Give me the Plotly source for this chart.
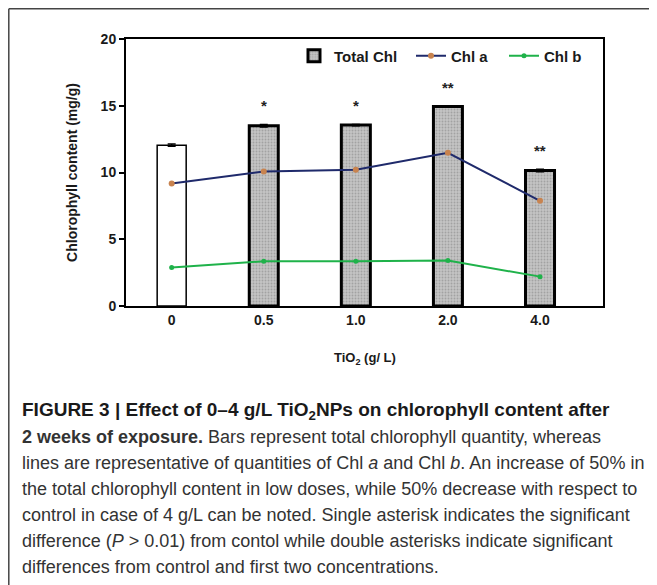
import plotly.graph_objects as go

# ---- data ----
categories = ["0", "0.5", "1.0", "2.0", "4.0"]
total_chl = [12.05, 13.5, 13.55, 14.95, 10.15]
total_err = [0.08, 0.1, 0.05, 0.05, 0.1]
chl_a = [9.17, 10.08, 10.2, 11.48, 7.88]
chl_b = [2.88, 3.35, 3.35, 3.4, 2.2]
significance = ["", "*", "*", "**", "**"]
y_ticks = [0, 5, 10, 15, 20]

caption_lines = [
    "<b>FIGURE 3 | Effect of 0–4 g/L TiO<sub>2</sub>NPs on chlorophyll content after</b>",
    "<b>2 weeks of exposure.</b> Bars represent total chlorophyll quantity, whereas",
    "lines are representative of quantities of Chl <i>a</i> and Chl <i>b</i>. An increase of 50% in",
    "the total chlorophyll content in low doses, while 50% decrease with respect to",
    "control in case of 4 g/L can be noted. Single asterisk indicates the significant",
    "difference (<i>P</i> > 0.01) from contol while double asterisks indicate significant",
    "differences from control and first two concentrations.",
]

# page has an 8px body margin; positions below are in screenshot pixels
OFF = 8
W, H = 657, 585
PL, PR, PT, PB = 126, 603, 39, 306          # plot box in screenshot px
L, T = PL - OFF, PT - OFF
PW, PH = PR - PL, PB - PT
R, B = W - L - PW, H - T - PH

def px_x(x):
    return (x - PL) / PW

def px_y(y):
    return (PB - y) / PH

xpos = list(range(len(categories)))
FONT = "Liberation Sans, Arial, sans-serif"
GRAY = "#c4c4c4"

fig = go.Figure()

# control bar (plain)
fig.add_trace(go.Bar(
    x=xpos[:1], y=total_chl[:1], name="Total Chl", width=0.315, showlegend=False,
    marker=dict(color="white", line=dict(color="black", width=1.5)),
    error_y=dict(type="data", array=total_err[:1], color="black", thickness=1.5, width=4),
))
# treated bars (stippled)
fig.add_trace(go.Bar(
    x=xpos[1:], y=total_chl[1:], name="Total Chl", width=0.315, legendwidth=72,
    marker=dict(
        color=GRAY, line=dict(color="black", width=3),
        pattern=dict(shape=".", fgcolor="#808080", size=3, solidity=0.3,
                     fillmode="overlay"),
    ),
    error_y=dict(type="data", array=total_err[1:], color="black", thickness=1.5, width=4),
))

fig.add_trace(go.Scatter(
    x=xpos, y=chl_a, name="Chl a", mode="lines+markers", legendwidth=48,
    line=dict(color="#1f2a6b", width=2),
    marker=dict(color="#c8834f", size=6),
))

fig.add_trace(go.Scatter(
    x=xpos, y=chl_b, name="Chl b", mode="lines+markers", legendwidth=40,
    line=dict(color="#1fb24a", width=2),
    marker=dict(color="#1fb24a", size=5),
))

# significance asterisks
for xi, yv, e, s in zip(xpos, total_chl, total_err, significance):
    if s:
        fig.add_annotation(x=xi, y=yv + e, text="<b>" + s + "</b>", showarrow=False,
                           yanchor="bottom", yshift=8,
                           font=dict(family=FONT, size=15, color="#222"))

# caption
cap_y = [411, 437, 463, 489, 515, 541, 567]
cap_size = [19, 18, 18, 18, 18, 18, 18]
for i, (txt, yy, fs) in enumerate(zip(caption_lines, cap_y, cap_size)):
    fig.add_annotation(xref="paper", yref="paper", x=px_x(20), y=px_y(yy),
                       text=txt, showarrow=False, xanchor="left", yanchor="middle",
                       font=dict(family=FONT, size=fs,
                                 color="#1a1a1a" if i == 0 else "#333333"))

# x-axis title
fig.add_annotation(xref="paper", yref="paper", x=px_x(365), y=px_y(358),
                   text="<b>TiO<sub>2</sub> (g/ L)</b>", showarrow=False,
                   yanchor="middle",
                   font=dict(family=FONT, size=13, color="#1a1a1a"))

# outer frame (left and top edges)
fig.add_shape(type="line", xref="paper", yref="paper",
              x0=px_x(8.8), y0=px_y(8.8), x1=px_x(720), y1=px_y(8.8),
              line=dict(color="#444", width=1.5))
fig.add_shape(type="line", xref="paper", yref="paper",
              x0=px_x(8.8), y0=px_y(8.8), x1=px_x(8.8), y1=px_y(640),
              line=dict(color="#444", width=1.5))

fig.update_layout(
    width=W, height=H, margin=dict(l=L, r=R, t=T, b=B, autoexpand=False),
    paper_bgcolor="white", plot_bgcolor="white",
    font=dict(family=FONT, color="#1a1a1a"),
    showlegend=True, barmode="overlay",
    legend=dict(orientation="h", x=px_x(294), y=px_y(56), xanchor="left",
                yanchor="middle", bgcolor="rgba(0,0,0,0)",
                font=dict(family=FONT, size=15, weight="bold"),
                itemwidth=30, tracegroupgap=0),
)

fig.update_xaxes(
    range=[-0.496, 4.684], tickmode="array", tickvals=xpos, ticktext=categories,
    showline=True, linecolor="black", linewidth=2, mirror=True,
    ticks="", showgrid=False, zeroline=False,
    tickfont=dict(family=FONT, size=14, weight="bold", color="#1a1a1a"),
)
fig.update_yaxes(
    range=[0, 20], tickmode="array", tickvals=y_ticks,
    showline=True, linecolor="black", linewidth=2, mirror=True,
    ticks="outside", ticklen=5, tickwidth=1.5, tickcolor="black",
    showgrid=False, zeroline=False,
    tickfont=dict(family=FONT, size=14, weight="bold", color="#1a1a1a"),
    title=dict(text="<b>Chlorophyll content (mg/g)</b>", standoff=20,
               font=dict(family=FONT, size=14, color="#1a1a1a")),
)

fig.write_html("out.html")
